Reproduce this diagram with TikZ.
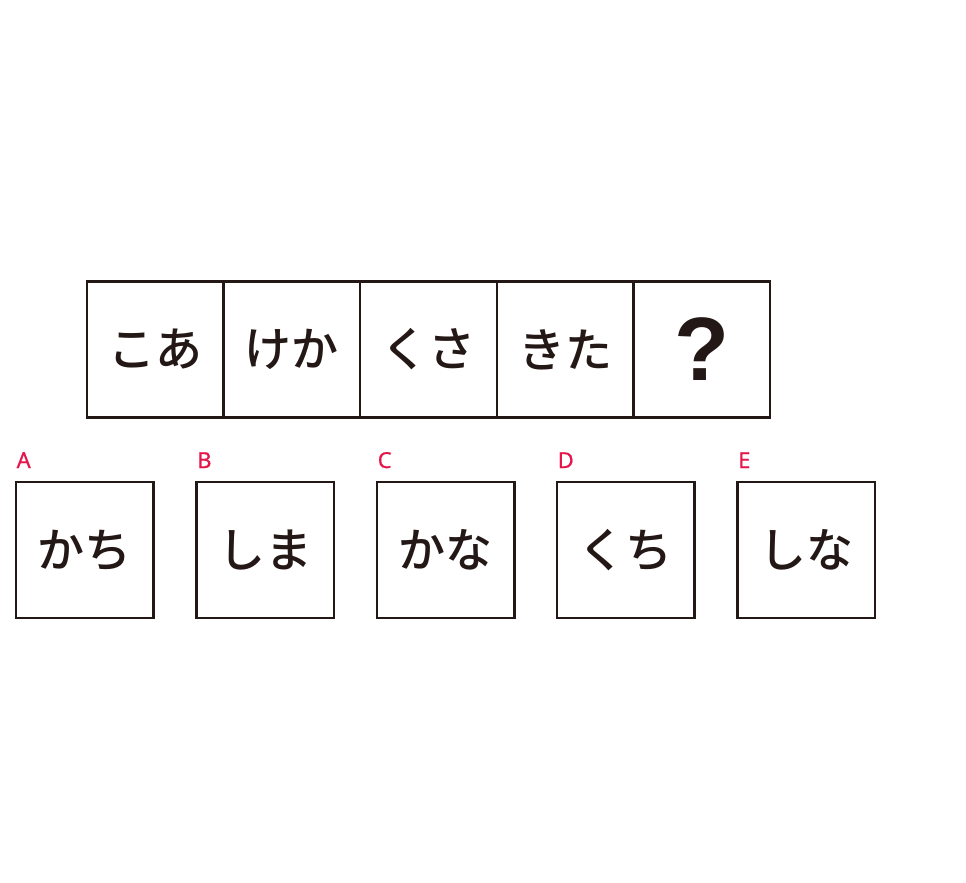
\documentclass[tikz,border=0pt]{standalone}
\usepackage{fontspec}
\newfontfamily\jpfont{Noto Sans CJK JP Medium}
\newfontfamily\qfont{Liberation Sans}
\newfontfamily\lblfont[FakeBold=0.6]{Noto Sans}
\definecolor{ink}{HTML}{231815}
\definecolor{lblred}{HTML}{E5164A}
\begin{document}
\begin{tikzpicture}[x=1pt,y=-1pt,
  cell/.style={draw=ink,line width=2.4pt,minimum width=136.6pt,minimum height=136pt,inner sep=0pt,outer sep=0pt,anchor=north west,
    font=\jpfont\fontsize{47}{47}\selectfont,text=ink},
  opt/.style={draw=ink,line width=2.4pt,minimum width=137.5pt,minimum height=136pt,inner sep=0pt,outer sep=0pt,anchor=north west,
    font=\jpfont\fontsize{47}{47}\selectfont,text=ink},
  lbl/.style={anchor=base west,inner sep=0pt,text=lblred,font=\lblfont\fontsize{22}{22}\selectfont}]
\useasboundingbox (0,0) rectangle (966,883);
\fill[white] (0,0) rectangle (966,883);
% top row
\node[cell] (t1) at (87,281.5) {こあ};
\node[cell] (t2) at (223.6,281.5) {けか};
\node[cell] (t3) at (360.2,281.5) {くさ};
\node[cell] (t4) at (496.8,281.5) {きた};
\node[cell,font=\qfont\bfseries\fontsize{90}{90}\selectfont] (t5) at (633.4,281.5) {?};
% options
\node[opt] (a) at (16,482) {かち};
\node[opt] (b) at (196.5,482) {しま};
\node[opt] (c) at (377,482) {かな};
\node[opt] (d) at (557,482) {くち};
\node[opt] (e) at (737.5,482) {しな};
\node[lbl] (la) at (16.5,468) {A};
\node[lbl] (lb) at (197,468) {B};
\node[lbl] (lc) at (377.5,468) {C};
\node[lbl] (ld) at (557.5,468) {D};
\node[lbl] (le) at (738,468) {E};
\end{tikzpicture}
\end{document}
